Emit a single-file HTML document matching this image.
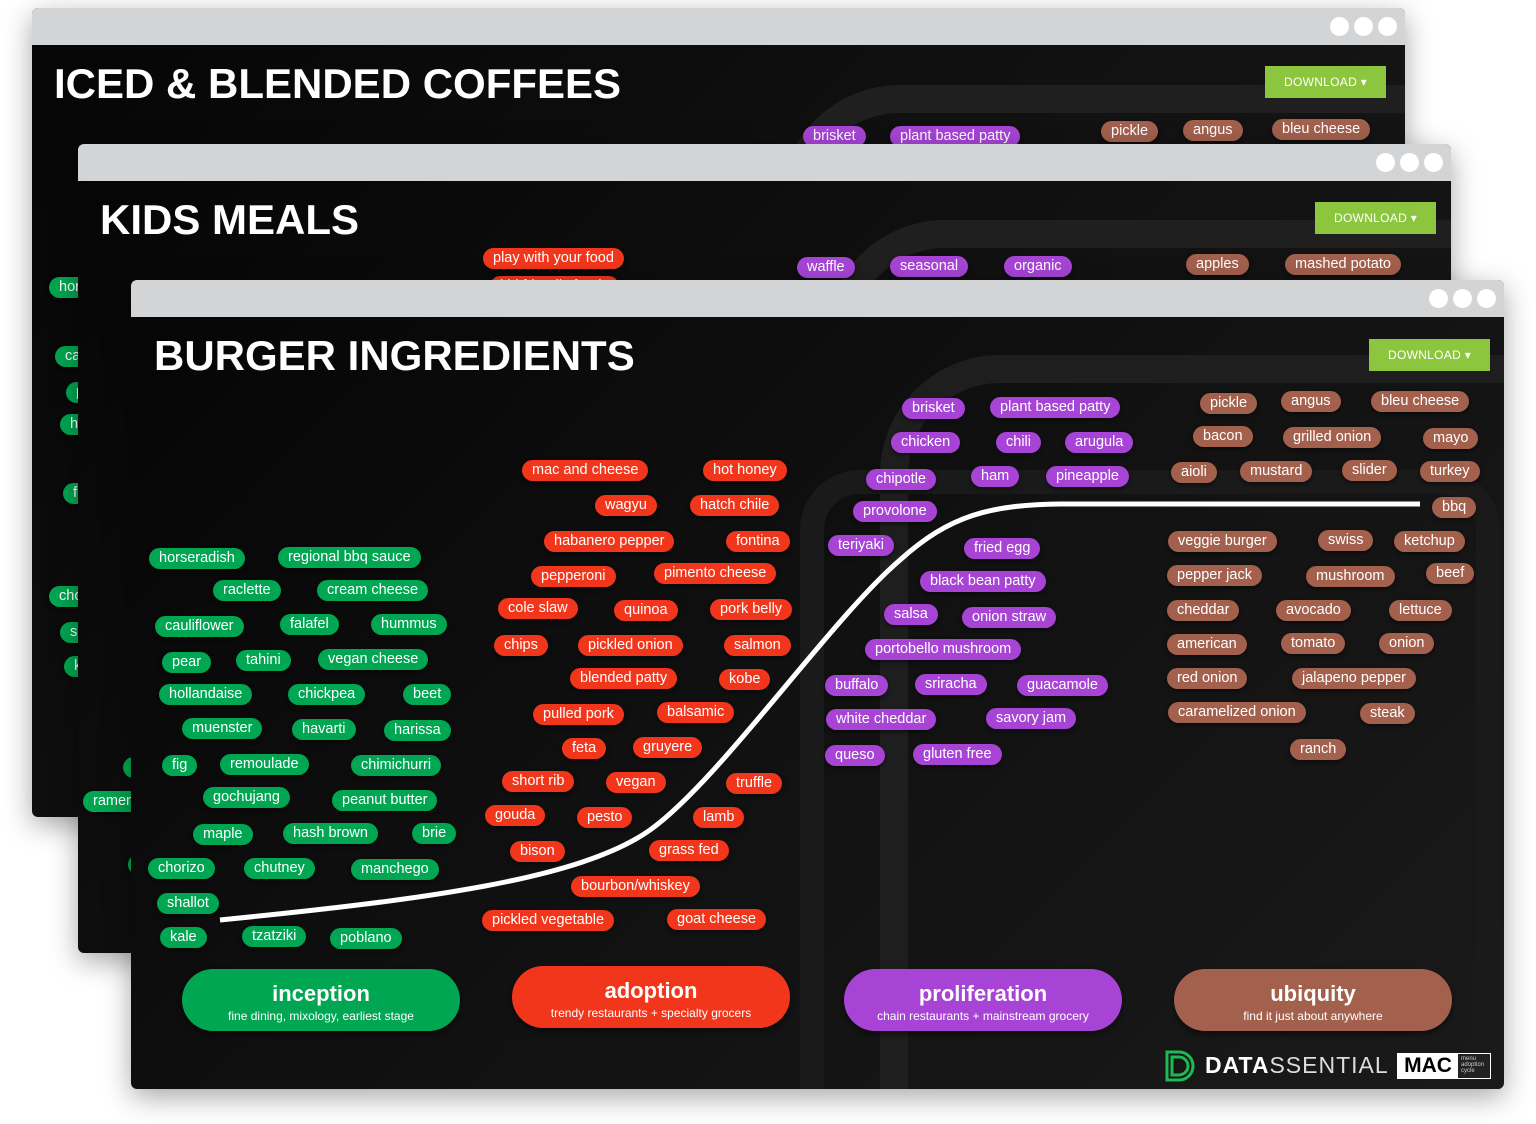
<!DOCTYPE html>
<html style="width:1536px;height:1124px;overflow:hidden"><head><meta charset="utf-8">
<style>
*{margin:0;padding:0;box-sizing:border-box}
body{width:1536px;height:1124px;background:#fff;position:relative;overflow:hidden;font-family:"Liberation Sans",sans-serif}
.win{position:absolute;width:1373px;height:809px;background:linear-gradient(135deg,#050505 0%,#111 50%,#1a1a1a 100%);border-radius:6px;overflow:hidden;box-shadow:0 8px 28px rgba(0,0,0,.35)}
.bar{position:absolute;left:0;top:0;width:100%;height:37px;background:#d3d4d6}
.dot{position:absolute;top:9px;width:19px;height:19px;border-radius:50%;background:#fff}
.abs{position:absolute;width:1536px;height:1124px}
.t{position:absolute;color:#fff;font-weight:bold;font-size:42px;letter-spacing:0;white-space:nowrap}
.dl{position:absolute;width:121px;height:32px;background:#8cc63f;color:#fff;font-size:12px;line-height:32px;text-align:center;letter-spacing:.3px}
.abs i{position:absolute;font-style:normal;color:#fff;font-size:14.5px;height:21px;line-height:21px;padding:0 10px;border-radius:11px;white-space:nowrap;box-shadow:0 2px 4px rgba(0,0,0,.5)}
.g i{background:#00a651}.r i{background:#f2361c}.p i{background:#a744d6}.b i{background:#a2604d}
i.g{background:#00a651!important}i.r{background:#f2361c!important}i.p{background:#a744d6!important}i.b{background:#a2604d!important}
.deco{position:absolute;border:28px solid #1f1f1f;border-radius:120px}
.st{position:absolute;width:278px;height:62px;border-radius:31px;color:#fff;text-align:center;box-shadow:0 3px 6px rgba(0,0,0,.5)}
.st b{display:block;font-size:22px;margin-top:12px;font-weight:bold}
.st s{display:block;text-decoration:none;font-size:12px;margin-top:2px}
</style></head><body>

<div class="win" style="left:32px;top:8px">
<div class="bar"></div><div class="dot" style="left:1298px"></div><div class="dot" style="left:1322px"></div><div class="dot" style="left:1346px"></div>
<div class="abs" style="left:-32px;top:-8px">
<div class="deco" style="left:780px;top:85px;width:800px;height:900px"></div>
<div class="t" style="left:54px;top:60px">ICED &amp; BLENDED COFFEES</div>
<div class="dl" style="left:1265px;top:66px">DOWNLOAD ▾</div>
<i class="p" style="left:803px;top:126px">brisket</i><i class="p" style="left:890px;top:126px">plant based patty</i>
<i class="b" style="left:1101px;top:121px">pickle</i><i class="b" style="left:1183px;top:120px">angus</i><i class="b" style="left:1272px;top:119px">bleu cheese</i>
<span class="g"><i style="left:49px;top:277px">horseradish</i><i style="left:55px;top:346px">cauliflower</i><i style="left:66px;top:382px">pear</i><i style="left:60px;top:414px">hollandaise</i><i style="left:63px;top:483px">fig</i><i style="left:49px;top:586px">chorizo</i><i style="left:60px;top:622px">shallot</i><i style="left:64px;top:656px">kale</i></span>
</div></div>

<div class="win" style="left:78px;top:144px">
<div class="bar"></div><div class="dot" style="left:1298px"></div><div class="dot" style="left:1322px"></div><div class="dot" style="left:1346px"></div>
<div class="abs" style="left:-78px;top:-144px">
<div class="deco" style="left:825px;top:220px;width:800px;height:900px"></div>
<div class="t" style="left:100px;top:196px">KIDS MEALS</div>
<div class="dl" style="left:1315px;top:202px">DOWNLOAD ▾</div>
<i class="r" style="left:483px;top:248px">play with your food</i><i class="r" style="left:490px;top:276px">kid friendly foods</i>
<i class="p" style="left:797px;top:257px">waffle</i><i class="p" style="left:890px;top:256px">seasonal</i><i class="p" style="left:1004px;top:256px">organic</i>
<i class="b" style="left:1186px;top:254px">apples</i><i class="b" style="left:1285px;top:254px">mashed potato</i>
<span class="g"><i style="left:123px;top:757px">noodles</i><i style="left:83px;top:791px">ramen</i><i style="left:128px;top:854px">sliders</i></span>
</div></div>

<div class="win" style="left:131px;top:280px">
<div class="bar"></div><div class="dot" style="left:1298px"></div><div class="dot" style="left:1322px"></div><div class="dot" style="left:1346px"></div>
<div class="abs" style="left:-131px;top:-280px">
<div class="deco" style="left:880px;top:355px;width:760px;height:900px;border-color:#1e1e1e"></div>
<div class="deco" style="left:800px;top:470px;width:700px;height:760px;border-width:24px;border-color:#1a1a1a;border-radius:60px"></div>
<div class="t" style="left:154px;top:332px">BURGER INGREDIENTS</div>
<div class="dl" style="left:1369px;top:339px">DOWNLOAD ▾</div>
<svg style="position:absolute;left:0;top:0" width="1536" height="1124"><path d="M220,920 C420,900 580,880 650,830 C720,780 830,620 900,560 C950,515 990,505 1060,504 L1420,504" fill="none" stroke="#fff" stroke-width="5"/></svg>
<span class="g">
<i style="left:149px;top:548px">horseradish</i><i style="left:278px;top:547px">regional bbq sauce</i><i style="left:213px;top:580px">raclette</i><i style="left:317px;top:580px">cream cheese</i>
<i style="left:155px;top:616px">cauliflower</i><i style="left:280px;top:614px">falafel</i><i style="left:371px;top:614px">hummus</i>
<i style="left:162px;top:652px">pear</i><i style="left:236px;top:650px">tahini</i><i style="left:318px;top:649px">vegan cheese</i>
<i style="left:159px;top:684px">hollandaise</i><i style="left:288px;top:684px">chickpea</i><i style="left:403px;top:684px">beet</i>
<i style="left:182px;top:718px">muenster</i><i style="left:292px;top:719px">havarti</i><i style="left:384px;top:720px">harissa</i>
<i style="left:162px;top:755px">fig</i><i style="left:220px;top:754px">remoulade</i><i style="left:351px;top:755px">chimichurri</i>
<i style="left:203px;top:787px">gochujang</i><i style="left:332px;top:790px">peanut butter</i>
<i style="left:193px;top:824px">maple</i><i style="left:283px;top:823px">hash brown</i><i style="left:412px;top:823px">brie</i>
<i style="left:148px;top:858px">chorizo</i><i style="left:244px;top:858px">chutney</i><i style="left:351px;top:859px">manchego</i>
<i style="left:157px;top:893px">shallot</i><i style="left:160px;top:927px">kale</i><i style="left:242px;top:926px">tzatziki</i><i style="left:330px;top:928px">poblano</i>
</span>
<span class="r">
<i style="left:522px;top:460px">mac and cheese</i><i style="left:703px;top:460px">hot honey</i><i style="left:595px;top:495px">wagyu</i><i style="left:690px;top:495px">hatch chile</i>
<i style="left:544px;top:531px">habanero pepper</i><i style="left:726px;top:531px">fontina</i><i style="left:531px;top:566px">pepperoni</i><i style="left:654px;top:563px">pimento cheese</i>
<i style="left:498px;top:598px">cole slaw</i><i style="left:614px;top:600px">quinoa</i><i style="left:710px;top:599px">pork belly</i>
<i style="left:494px;top:635px">chips</i><i style="left:578px;top:635px">pickled onion</i><i style="left:724px;top:635px">salmon</i>
<i style="left:570px;top:668px">blended patty</i><i style="left:719px;top:669px">kobe</i><i style="left:533px;top:704px">pulled pork</i><i style="left:657px;top:702px">balsamic</i>
<i style="left:562px;top:738px">feta</i><i style="left:633px;top:737px">gruyere</i><i style="left:502px;top:771px">short rib</i><i style="left:606px;top:772px">vegan</i><i style="left:726px;top:773px">truffle</i>
<i style="left:485px;top:805px">gouda</i><i style="left:577px;top:807px">pesto</i><i style="left:693px;top:807px">lamb</i><i style="left:510px;top:841px">bison</i><i style="left:649px;top:840px">grass fed</i>
<i style="left:571px;top:876px">bourbon/whiskey</i><i style="left:482px;top:910px">pickled vegetable</i><i style="left:667px;top:909px">goat cheese</i>
</span>
<span class="p">
<i style="left:902px;top:398px">brisket</i><i style="left:990px;top:397px">plant based patty</i><i style="left:891px;top:432px">chicken</i><i style="left:996px;top:432px">chili</i><i style="left:1065px;top:432px">arugula</i>
<i style="left:866px;top:469px">chipotle</i><i style="left:971px;top:466px">ham</i><i style="left:1046px;top:466px">pineapple</i><i style="left:853px;top:501px">provolone</i>
<i style="left:828px;top:535px">teriyaki</i><i style="left:964px;top:538px">fried egg</i><i style="left:920px;top:571px">black bean patty</i><i style="left:884px;top:604px">salsa</i><i style="left:962px;top:607px">onion straw</i>
<i style="left:865px;top:639px">portobello mushroom</i><i style="left:825px;top:675px">buffalo</i><i style="left:915px;top:674px">sriracha</i><i style="left:1017px;top:675px">guacamole</i>
<i style="left:826px;top:709px">white cheddar</i><i style="left:986px;top:708px">savory jam</i><i style="left:825px;top:745px">queso</i><i style="left:913px;top:744px">gluten free</i>
</span>
<span class="b">
<i style="left:1200px;top:393px">pickle</i><i style="left:1281px;top:391px">angus</i><i style="left:1371px;top:391px">bleu cheese</i>
<i style="left:1193px;top:426px">bacon</i><i style="left:1283px;top:427px">grilled onion</i><i style="left:1423px;top:428px">mayo</i>
<i style="left:1171px;top:462px">aioli</i><i style="left:1240px;top:461px">mustard</i><i style="left:1342px;top:460px">slider</i><i style="left:1420px;top:461px">turkey</i><i style="left:1432px;top:497px">bbq</i>
<i style="left:1168px;top:531px">veggie burger</i><i style="left:1318px;top:530px">swiss</i><i style="left:1394px;top:531px">ketchup</i>
<i style="left:1167px;top:565px">pepper jack</i><i style="left:1306px;top:566px">mushroom</i><i style="left:1426px;top:563px">beef</i>
<i style="left:1167px;top:600px">cheddar</i><i style="left:1276px;top:600px">avocado</i><i style="left:1389px;top:600px">lettuce</i>
<i style="left:1167px;top:634px">american</i><i style="left:1281px;top:633px">tomato</i><i style="left:1379px;top:633px">onion</i>
<i style="left:1167px;top:668px">red onion</i><i style="left:1292px;top:668px">jalapeno pepper</i><i style="left:1168px;top:702px">caramelized onion</i><i style="left:1360px;top:703px">steak</i><i style="left:1290px;top:739px">ranch</i>
</span>
<div class="st" style="left:182px;top:969px;background:#00a651"><b>inception</b><s>fine dining, mixology, earliest stage</s></div>
<div class="st" style="left:512px;top:966px;background:#f2361c"><b>adoption</b><s>trendy restaurants + specialty grocers</s></div>
<div class="st" style="left:844px;top:969px;background:#a744d6"><b>proliferation</b><s>chain restaurants + mainstream grocery</s></div>
<div class="st" style="left:1174px;top:969px;background:#a2604d"><b>ubiquity</b><s>find it just about anywhere</s></div>
<svg style="position:absolute;left:1164px;top:1050px" width="32" height="32"><path d="M3,2 h12 a14,14 0 0 1 0,28 h-12 z M8,7 h7 a9,9 0 0 1 0,18 h-7 z" fill="none" stroke="#1db954" stroke-width="3"/></svg>
<div style="position:absolute;left:1205px;top:1052px;color:#fff;font-size:23px;letter-spacing:1px;white-space:nowrap"><b>DATA</b><span style="font-weight:normal;color:#ddd">SSENTIAL</span></div>
<div style="position:absolute;left:1397px;top:1053px;width:94px;height:26px;border:1px solid #fff;background:#222">
<div style="position:absolute;left:0;top:0;width:60px;height:24px;background:#fff;color:#000;font-weight:bold;font-size:21px;line-height:24px;text-align:center">MAC</div>
<div style="position:absolute;left:63px;top:2px;color:#ccc;font-size:6px;line-height:6px">menu<br>adoption<br>cycle</div></div>
</div></div>
</body></html>
